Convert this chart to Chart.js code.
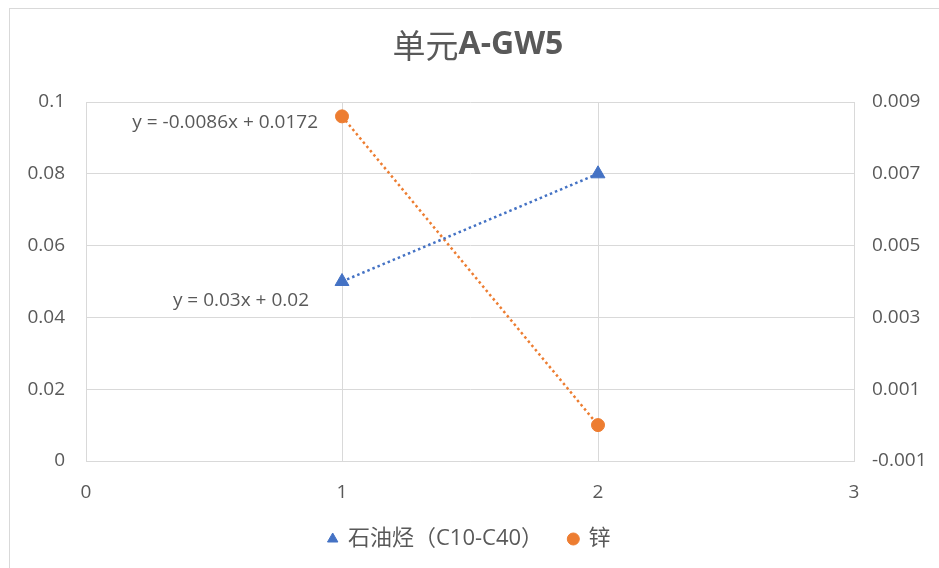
<!DOCTYPE html>
<meta charset="UTF-8">
<title>单元A-GW5</title>
<script src="https://cdn.jsdelivr.net/npm/chart.js"></script>
<style>
  html, body { margin: 0; padding: 0; background: #fff; overflow: hidden; }
  #wrap { position: relative; width: 939px; height: 568px; }
  #frame { position: absolute; left: 9px; top: 8px; width: 960px; height: 600px; border: 1px solid #d9d9d9; }
  canvas { position: absolute; left: 0; top: 0; }
</style>

<script>
// data
var xValues = [1, 2];
var tphValues = [0.05, 0.08];       // 石油烃（C10-C40）, left axis
var znValues = [0.0086, 0.0];       // 锌, right axis
var seriesNames = ['石油烃（C10-C40）', '锌'];
var trendLabels = ['y = 0.03x + 0.02', 'y = -0.0086x + 0.0172'];
var titleParts = ['单元', 'A-GW5'];
var xTicks = [0, 1, 2, 3];
var leftTicks = [0, 0.02, 0.04, 0.06, 0.08, 0.1];
var rightTicks = [-0.001, 0.001, 0.003, 0.005, 0.007, 0.009];

var TXT = '#595959';
var GRID = '#d9d9d9';
var FONT = '"Open Sans", "Noto Sans CJK SC", sans-serif';

function pts(xs, ys) {
    var out = [];
    for (var i = 0; i < xs.length; i++) out.push({x: xs[i], y: ys[i]});
    return out;
}

// title drawn in two weights like the Excel one
var titlePlugin = {
    id: 'mixedTitle',
    afterDraw: function(chart) {
        var ctx = chart.ctx;
        ctx.save();
        ctx.fillStyle = TXT;
        ctx.textBaseline = 'middle';
        var f1 = 'normal 33px "Noto Sans CJK SC", sans-serif';
        var f2 = 'bold 32px "Open Sans", sans-serif';
        ctx.font = f1;
        var w1 = ctx.measureText(titleParts[0]).width;
        ctx.font = f2;
        var w2 = ctx.measureText(titleParts[1]).width;
        var x = 478 - (w1 + w2) / 2;
        var y = 45;
        ctx.font = f1;
        ctx.textAlign = 'left';
        ctx.fillText(titleParts[0], x, y);
        ctx.font = f2;
        ctx.fillText(titleParts[1], x + w1, y);
        ctx.restore();
    }
};

// trendline equations, anchored to the first point of each series
var eqPlugin = {
    id: 'trendEq',
    afterDatasetsDraw: function(chart) {
        var ctx = chart.ctx;
        var offs = [[-33, 19], [-24, 6]];
        ctx.save();
        ctx.fillStyle = TXT;
        ctx.font = '19px ' + FONT;
        ctx.textAlign = 'right';
        ctx.textBaseline = 'middle';
        for (var i = 0; i < 2; i++) {
            var p = chart.getDatasetMeta(i).data[0];
            ctx.fillText(trendLabels[i], p.x + offs[i][0], p.y + offs[i][1]);
        }
        ctx.restore();
    }
};

function drawChart() {
    var ctx = document.getElementById('chart').getContext('2d');
    new Chart(ctx, {
        type: 'scatter',
        data: {
            datasets: [{
                label: seriesNames[0],
                data: pts(xValues, tphValues),
                yAxisID: 'y',
                showLine: true,
                borderColor: '#4472C4',
                backgroundColor: '#4472C4',
                borderWidth: 2.5,
                borderDash: [2.5, 3],
                pointStyle: 'triangle',
                pointRadius: 8,
                pointHoverRadius: 8,
                pointBorderWidth: 1
            }, {
                label: seriesNames[1],
                data: pts(xValues, znValues),
                yAxisID: 'y1',
                showLine: true,
                borderColor: '#ED7D31',
                backgroundColor: '#ED7D31',
                borderWidth: 2.5,
                borderDash: [2.5, 3],
                pointStyle: 'circle',
                pointRadius: 6.5,
                pointHoverRadius: 6.5,
                pointBorderWidth: 1
            }]
        },
        options: {
            responsive: false,
            animation: false,
            devicePixelRatio: 1,
            layout: { padding: { top: 102, left: 0, right: 0, bottom: 8 } },
            scales: {
                x: {
                    type: 'linear',
                    min: 0, max: 3,
                    afterBuildTicks: function(s) { s.ticks = xTicks.map(function(v) { return {value: v}; }); },
                    afterFit: function(s) { s.height = 41; },
                    grid: { color: GRID, drawTicks: false },
                    border: { color: GRID },
                    ticks: { color: TXT, padding: 20, font: { family: FONT, size: 19 } }
                },
                y: {
                    position: 'left',
                    min: 0, max: 0.1,
                    afterBuildTicks: function(s) { s.ticks = leftTicks.map(function(v) { return {value: v}; }); },
                    afterFit: function(s) { s.width = 86; },
                    grid: { color: GRID, drawTicks: false },
                    border: { color: GRID },
                    ticks: {
                        color: TXT, padding: 21, font: { family: FONT, size: 19 },
                        callback: function(v) { return String(Number(v.toFixed(2))); }
                    }
                },
                y1: {
                    position: 'right',
                    min: -0.001, max: 0.009,
                    afterBuildTicks: function(s) { s.ticks = rightTicks.map(function(v) { return {value: v}; }); },
                    afterFit: function(s) { s.width = 85; },
                    grid: { display: false, drawTicks: false },
                    border: { display: false },
                    ticks: {
                        color: TXT, padding: 18, font: { family: FONT, size: 19 },
                        callback: function(v) { return String(Number(v.toFixed(3))); }
                    }
                }
            },
            plugins: {
                title: { display: false },
                tooltip: { enabled: false },
                legend: {
                    position: 'bottom',
                    labels: {
                        usePointStyle: true,
                        boxWidth: 8.5,
                        boxHeight: 8.5,
                        padding: 26,
                        color: TXT,
                        font: { family: FONT, size: 22 }
                    }
                }
            }
        },
        plugins: [titlePlugin, eqPlugin]
    });
}
</script>

<html>
  <body>
    <div id="wrap">
      <div id="frame"></div>
      <canvas id="chart" width="939" height="568"></canvas>
    </div>
    <script>drawChart();</script>
  </body>
</html>
